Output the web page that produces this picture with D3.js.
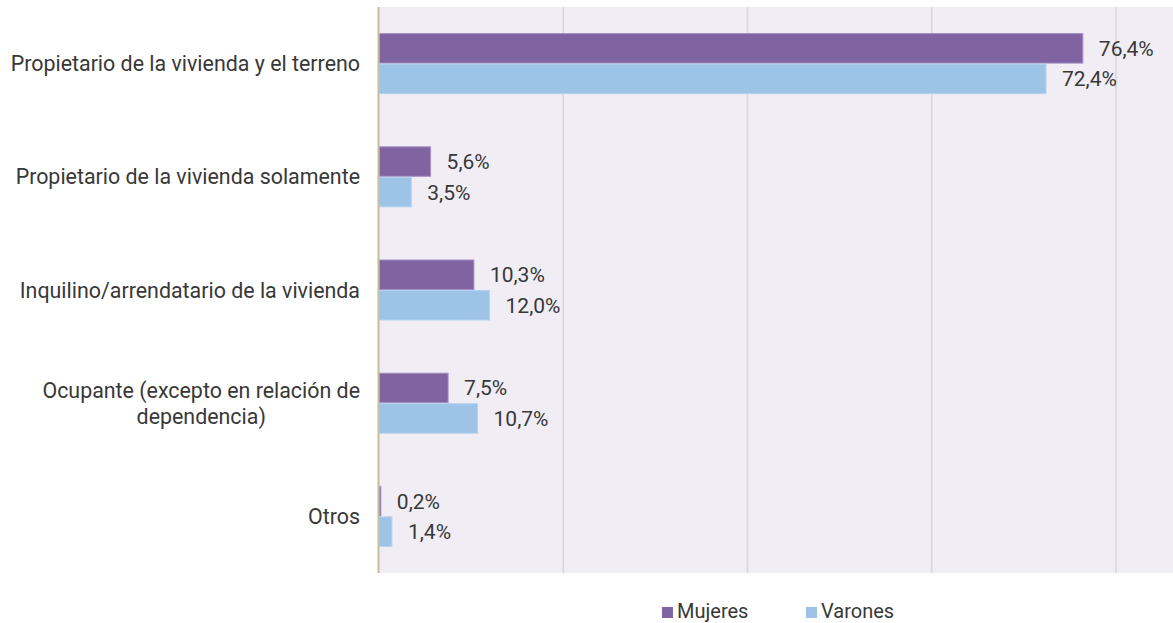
<!DOCTYPE html>
<html>
<head>
<meta charset="utf-8">
<script src="https://cdn.jsdelivr.net/npm/d3@7"></script>
<style>
  body { margin: 0; background: #fff; }
  svg { display: block; font-family: Roboto, "Noto Sans", sans-serif; }
</style>
</head>
<body>
<div id="chart"></div>
<script>
// Data
const categories = [
  "Propietario de la vivienda y el terreno",
  "Propietario de la vivienda solamente",
  "Inquilino/arrendatario de la vivienda",
  "Ocupante (excepto en relación de dependencia)",
  "Otros"
];
const labelLines = [
  ["Propietario de la vivienda y el terreno"],
  ["Propietario de la vivienda solamente"],
  ["Inquilino/arrendatario de la vivienda"],
  ["Ocupante (excepto en relación de", "dependencia)"],
  ["Otros"]
];
const seriesNames = ["Mujeres", "Varones"];
const mujeres = [76.4, 5.6, 10.3, 7.5, 0.2];
const varones = [72.4, 3.5, 12.0, 10.7, 1.4];
const gridTicks = [0, 20, 40, 60, 80];

const colors = { Mujeres: "#8064a2", Varones: "#9dc3e6" };
const strokes = { Mujeres: "#a48fc2", Varones: "#b4d2ee" };

const width = 1173, height = 623;
const margin = { top: 7, right: 0, bottom: 50, left: 379 };

const svg = d3.select("#chart")
  .append("svg")
  .attr("width", width)
  .attr("height", height);

// scales
const x = d3.scaleLinear()
  .domain([0, 80])
  .range([margin.left, margin.left + 737]);

const y = d3.scaleBand()
  .domain(categories)
  .range([margin.top, height - margin.bottom])
  .paddingInner(0.461)
  .paddingOuter(0.2305);

const ySub = d3.scaleBand()
  .domain(seriesNames)
  .range([0, y.bandwidth()]);

// plot background
svg.append("rect")
  .attr("x", margin.left)
  .attr("y", margin.top)
  .attr("width", width - margin.left)
  .attr("height", height - margin.bottom - margin.top)
  .attr("fill", "#f0eef4");

// gridlines
svg.append("g")
  .selectAll("line")
  .data(gridTicks.slice(1))
  .join("line")
  .attr("x1", d => x(d))
  .attr("x2", d => x(d))
  .attr("y1", margin.top)
  .attr("y2", height - margin.bottom)
  .attr("stroke", "#d9d7dd")
  .attr("stroke-width", 1.6);

// bars
const rows = categories.map((c, i) => ({ cat: c, i, values: [
  { key: "Mujeres", value: mujeres[i] },
  { key: "Varones", value: varones[i] }
]}));

const group = svg.append("g")
  .selectAll("g")
  .data(rows)
  .join("g")
  .attr("transform", d => `translate(0,${y(d.cat)})`);

group.selectAll("rect")
  .data(d => d.values)
  .join("rect")
  .attr("x", x(0))
  .attr("y", d => ySub(d.key) + 0.5)
  .attr("width", d => Math.max(0, x(d.value) - x(0)))
  .attr("height", ySub.bandwidth() - 1)
  .attr("fill", d => colors[d.key])
  .attr("stroke", d => strokes[d.key])
  .attr("stroke-width", 1);

// value labels
group.selectAll("text")
  .data(d => d.values)
  .join("text")
  .attr("x", d => x(d.value) + 16)
  .attr("y", d => ySub(d.key) + ySub.bandwidth() / 2 + 7.5)
  .attr("font-size", 21)
  .attr("fill", "#383838")
  .text(d => d.value.toFixed(1).replace(".", ",") + "%");

// y axis line
svg.append("line")
  .attr("x1", margin.left - 0.5)
  .attr("x2", margin.left - 0.5)
  .attr("y1", margin.top)
  .attr("y2", height - margin.bottom)
  .attr("stroke", "#c6be94")
  .attr("stroke-width", 2);

// category labels
const labelRight = 360, lineH = 26;
categories.forEach((c, i) => {
  const lines = labelLines[i];
  const cy = y(c) + y.bandwidth() / 2;
  const t = svg.append("text")
    .attr("font-size", 21.4)
    .attr("fill", "#383838");
  const spans = lines.map((ln, k) => t.append("tspan")
    .attr("y", cy + 7.5 + (k - (lines.length - 1) / 2) * lineH)
    .text(ln));
  if (lines.length === 1) {
    t.attr("text-anchor", "end");
    spans[0].attr("x", labelRight);
  } else {
    const w = d3.max(spans, s => s.node().getComputedTextLength());
    t.attr("text-anchor", "middle");
    spans.forEach(s => s.attr("x", labelRight - w / 2));
  }
});

// legend
const legendX = [662, 806];
const legend = svg.append("g")
  .selectAll("g")
  .data(seriesNames)
  .join("g")
  .attr("transform", (d, i) => `translate(${legendX[i]},607)`);

legend.append("rect")
  .attr("width", 11)
  .attr("height", 11)
  .attr("fill", d => colors[d]);

legend.append("text")
  .attr("x", 15)
  .attr("y", 11)
  .attr("font-size", 20)
  .attr("fill", "#383838")
  .text(d => d);
</script>
</body>
</html>
